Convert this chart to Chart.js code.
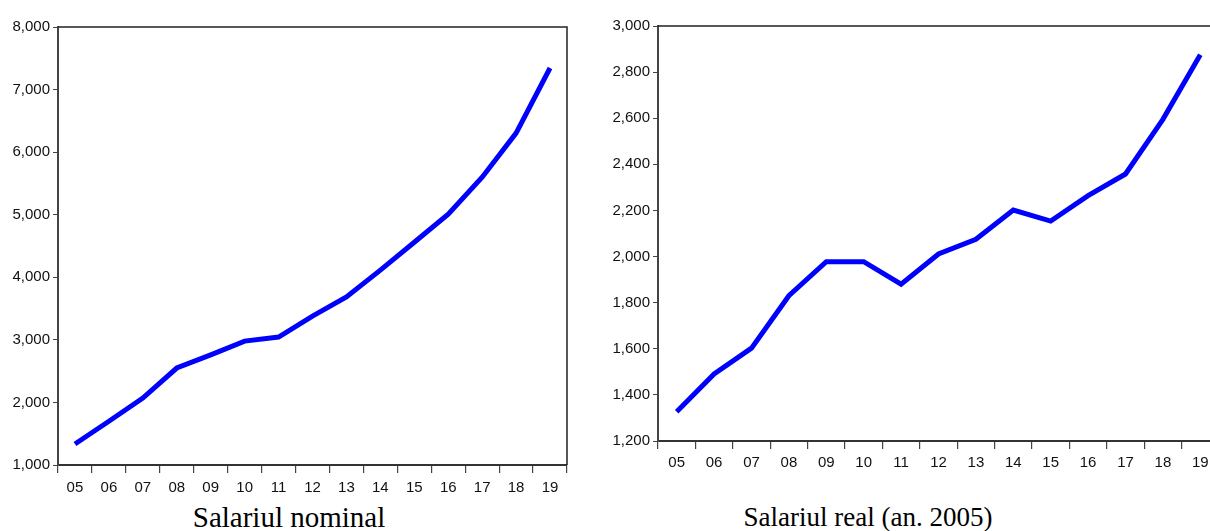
<!DOCTYPE html>
<html>
<head>
<meta charset="utf-8">
<script src="https://cdn.jsdelivr.net/npm/chart.js@4/dist/chart.umd.min.js"></script>
<style>
  html, body { margin: 0; padding: 0; background: #fff; width: 1210px; height: 531px; overflow: hidden; }
  .wrap { position: absolute; top: 0; }
  .title {
    position: absolute; text-align: center; color: #000;
    font-family: "Liberation Serif", "Times New Roman", serif; line-height: 1;
    white-space: nowrap;
  }
</style>
</head>
<body>
<div class="wrap" style="left:0px;width:600px;height:500px"><canvas id="nominal"></canvas></div>
<div class="wrap" style="left:600px;width:619px;height:500px"><canvas id="real"></canvas></div>
<div class="title" style="left:89px;width:400px;top:503px;font-size:29px">Salariul nominal</div>
<div class="title" style="left:668px;width:400px;top:504px;font-size:27px">Salariul real (an. 2005)</div>
<script>
// years 2005..2019, shown as two digits
const years = ["05", "06", "07", "08", "09", "10", "11", "12", "13", "14", "15", "16", "17", "18", "19"];
const nominalWage = [1335, 1700, 2070, 2550, 2760, 2980, 3045, 3380, 3685, 4115, 4560, 5010, 5600, 6305, 7345];
const realWage = [1327, 1491, 1603, 1830, 1978, 1978, 1880, 2011, 2075, 2202, 2154, 2264, 2358, 2595, 2875];

const tickFont = { family: "'Liberation Sans', Arial, sans-serif", size: 15 };

// top and right edges of the plot box
const frame = {
  id: 'frame',
  afterDraw(chart) {
    const { ctx, chartArea: a } = chart;
    ctx.save();
    ctx.strokeStyle = '#222';
    ctx.lineWidth = 1.5;
    ctx.beginPath();
    ctx.moveTo(a.left, a.top);
    ctx.lineTo(a.right, a.top);
    ctx.lineTo(a.right, a.bottom);
    ctx.stroke();
    ctx.restore();
  }
};

function makeChart(id, values, yMin, yMax, step, pad, yWidth, xHeight, xPad) {
  return new Chart(document.getElementById(id), {
    type: 'line',
    data: {
      labels: years,
      datasets: [{
        data: values,
        borderColor: '#0000ff',
        borderWidth: 5,
        pointRadius: 0,
        tension: 0,
        borderJoinStyle: 'miter',
        borderCapStyle: 'butt'
      }]
    },
    options: {
      responsive: true,
      maintainAspectRatio: false,
      animation: false,
      locale: 'en-US',
      layout: { padding: pad },
      plugins: { legend: { display: false }, tooltip: { enabled: false } },
      scales: {
        x: {
          type: 'category',
          offset: true,
          grid: { offset: true, drawOnChartArea: false, tickLength: 8, color: '#444', lineWidth: 1.2 },
          border: { color: '#333', width: 2 },
          ticks: { color: '#111', font: tickFont, padding: xPad, maxRotation: 0, autoSkip: false },
          afterFit(s) { s.height = xHeight; }
        },
        y: {
          min: yMin, max: yMax,
          grid: { drawOnChartArea: false, tickLength: 5, color: '#444' },
          border: { color: '#444', width: 2 },
          ticks: { stepSize: step, color: '#111', font: tickFont, padding: 3 },
          afterFit(s) { s.width = yWidth; }
        }
      }
    },
    plugins: [frame]
  });
}

makeChart('nominal', nominalWage, 1000, 8000, 1000, { top: 27, right: 33, left: 0, bottom: 0 }, 58, 35, 6);
makeChart('real', realWage, 1200, 3000, 200, { top: 26, right: 0, left: 0, bottom: 0 }, 58, 59, 5);
</script>
</body>
</html>
